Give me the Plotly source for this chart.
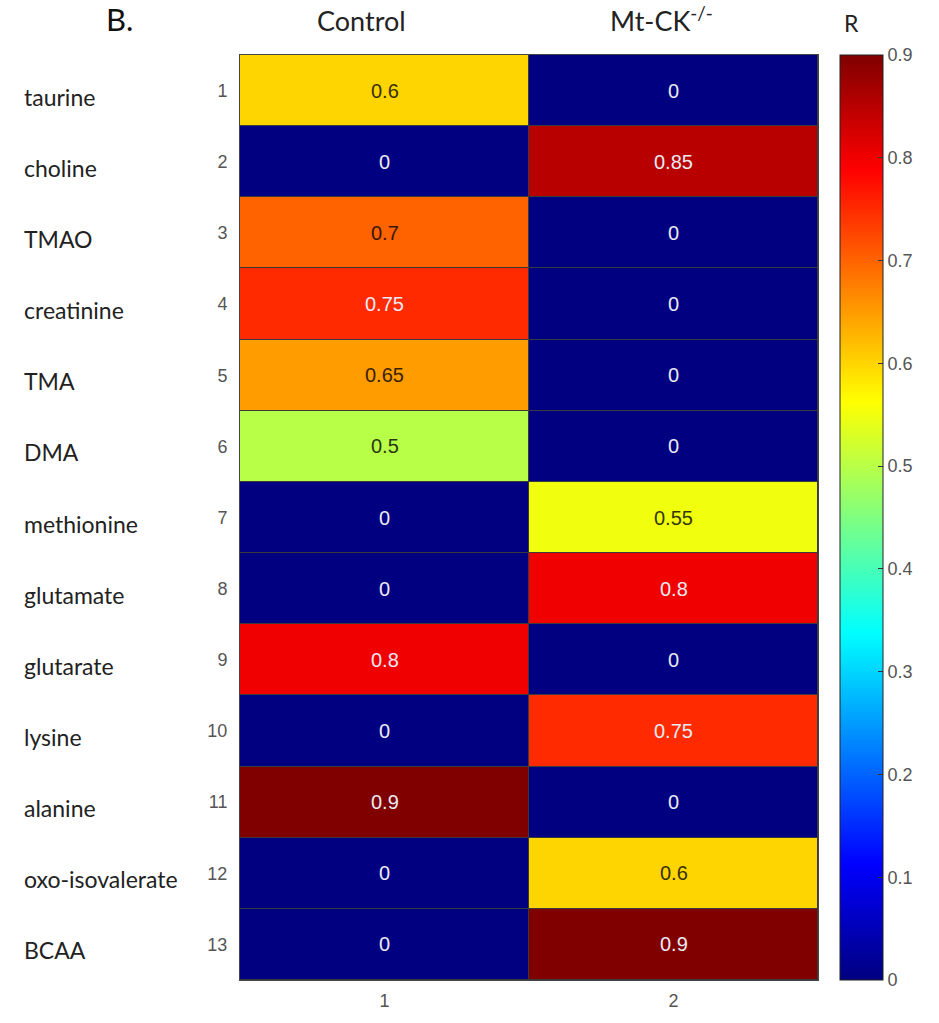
import plotly.graph_objects as go

# Metabolites (rows) and groups (columns)
metabolites = ["taurine", "choline", "TMAO", "creatinine", "TMA", "DMA", "methionine",
               "glutamate", "glutarate", "lysine", "alanine", "oxo-isovalerate", "BCAA"]
row_ids = list(range(1, 14))
col_ids = [1, 2]
groups = ["Control", "Mt-CK<sup>-/-</sup>"]
header_shift = [-23, -12]

control = [0.6, 0, 0.7, 0.75, 0.65, 0.5, 0, 0, 0.8, 0, 0.9, 0, 0]
mtck = [0, 0.85, 0, 0, 0, 0, 0.55, 0.8, 0, 0.75, 0, 0.6, 0.9]

zmin, zmax = 0.0, 0.9
cbar_ticks = [0, 0.1, 0.2, 0.3, 0.4, 0.5, 0.6, 0.7, 0.8, 0.9]

# MATLAB-style jet colormap anchors
jet_stops = [(0.0, (0, 0, 0.5)), (0.125, (0, 0, 1)), (0.375, (0, 1, 1)),
             (0.625, (1, 1, 0)), (0.875, (1, 0, 0)), (1.0, (0.5, 0, 0))]


def jet(t):
    t = min(max(t, 0.0), 1.0)
    for (a, ca), (b, cb) in zip(jet_stops[:-1], jet_stops[1:]):
        if a <= t <= b:
            f = (t - a) / (b - a)
            return tuple(ca[i] + f * (cb[i] - ca[i]) for i in range(3))
    return jet_stops[-1][1]


def rgb(c, k=1.0):
    return "rgb(%d,%d,%d)" % tuple(int(round(255 * v * k)) for v in c)


colorscale = [[s, rgb(c)] for s, c in jet_stops]

z = [[control[i], mtck[i]] for i in range(len(metabolites))]

# Page geometry (pixels)
W, H = 939, 1023
ml, mr, mt, mb = 240, 121, 55, 37
pw = W - ml - mr


def px_to_paper_x(px):
    return (px - ml) / pw


fig = go.Figure()
fig.add_trace(go.Heatmap(
    z=z, x=col_ids, y=row_ids,
    zmin=zmin, zmax=zmax, colorscale=colorscale,
    xgap=1, ygap=1, hoverinfo="skip",
    colorbar=dict(
        x=px_to_paper_x(840), xanchor="left", xpad=0,
        y=0.5, yanchor="middle", ypad=0,
        len=1.0, lenmode="fraction", thickness=43,
        outlinewidth=1, outlinecolor="#222",
        tickvals=cbar_ticks, ticktext=[("%g" % v) for v in cbar_ticks],
        ticks="inside", ticklen=5, tickcolor="#333",
        tickfont=dict(family="Liberation Sans, Arial", size=18, color="#555"),
    ),
))

annotations = []
# Cell value labels
for i in range(len(metabolites)):
    for j, v in enumerate(z[i]):
        t = (v - zmin) / (zmax - zmin)
        c = jet(t)
        light = (0.299 * c[0] + 0.587 * c[1] + 0.114 * c[2]) > 0.45
        txt_color = rgb(c, 0.22) if light else "rgb(235,235,245)"
        annotations.append(dict(
            x=col_ids[j], y=row_ids[i], xref="x", yref="y",
            text="%g" % v, showarrow=False,
            font=dict(family="Liberation Sans, Arial", size=20, color=txt_color),
        ))

# Metabolite names on the left
for i, name in enumerate(metabolites):
    annotations.append(dict(
        x=px_to_paper_x(22), xref="paper", xanchor="left", y=row_ids[i], yref="y",
        text=name, showarrow=False, yshift=-6,
        font=dict(family="Lato, Open Sans", size=23, color="#222"),
    ))

# Group headers
for j, g in enumerate(groups):
    annotations.append(dict(
        x=col_ids[j], xref="x", y=1.0, yref="paper", yanchor="bottom",
        yshift=16, xshift=header_shift[j],
        text=g, showarrow=False,
        font=dict(family="Lato, Open Sans", size=27, color="#222"),
    ))

# Panel letter and colour bar title
annotations.append(dict(
    x=px_to_paper_x(104), xref="paper", xanchor="left", y=1.0, yref="paper", yanchor="bottom",
    text="B.", showarrow=False, yshift=15,
    font=dict(family="Lato, Open Sans", size=31, color="#111"),
))
annotations.append(dict(
    x=px_to_paper_x(851), xref="paper", xanchor="center", y=1.0, yref="paper", yanchor="bottom",
    text="R", showarrow=False, yshift=16,
    font=dict(family="Lato, Open Sans", size=23, color="#222"),
))

fig.update_layout(
    width=W, height=H,
    margin=dict(l=ml, r=mr, t=mt, b=mb, pad=0),
    paper_bgcolor="white", plot_bgcolor="#3a3a3a",
    annotations=annotations,
    xaxis=dict(
        tickvals=col_ids, ticktext=[str(c) for c in col_ids],
        range=[0.5, 2.5], showgrid=False, zeroline=False, ticks="",
        tickfont=dict(family="Liberation Sans, Arial", size=18, color="#555"),
        showline=True, linecolor="#444", mirror=True, linewidth=1,
        ticklabelstandoff=4,
    ),
    yaxis=dict(
        tickvals=row_ids, ticktext=[str(r) for r in row_ids],
        range=[13.5, 0.5], showgrid=False, zeroline=False, ticks="",
        tickfont=dict(family="Liberation Sans, Arial", size=18, color="#555"),
        showline=True, linecolor="#444", mirror=True, linewidth=1,
        ticklabelstandoff=8,
    ),
)

fig.write_html("out.html")
